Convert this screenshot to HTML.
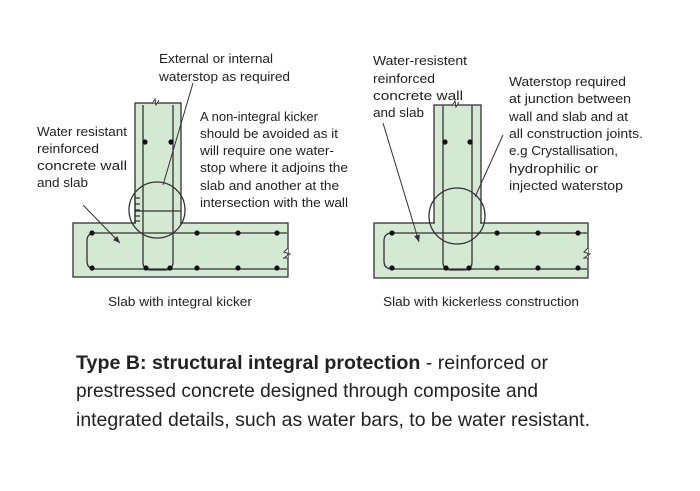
<!DOCTYPE html>
<html><head><meta charset="utf-8"><style>
html,body{margin:0;padding:0;background:#fff;}
svg{display:block;}
text{font-family:"Liberation Sans",sans-serif;fill:#222;}
</style></head><body>
<svg width="700" height="491" viewBox="0 0 700 491" xmlns="http://www.w3.org/2000/svg">
<defs><marker id="ar" markerWidth="8" markerHeight="8" refX="7" refY="4" orient="auto" markerUnits="userSpaceOnUse"><path d="M0,1 L7,4 L0,7 z" fill="#333"/></marker></defs>
<g stroke="#333" stroke-width="1.3" fill="#d4e9d2">
<!-- LEFT -->
<rect x="135" y="103" width="46" height="122"/>
<rect x="73" y="223" width="215" height="54"/>
<rect x="136" y="222" width="44" height="3" stroke="none"/>
<path d="M143,105 V262 Q143,270 151,270 H165 Q173,270 173,262 V105" fill="none"/>
<path d="M287,233 H95 Q87,233 87,241 V261 Q87,269 95,269 H287" fill="none"/>
<line x1="135" y1="211" x2="181" y2="211"/>
<path d="M135,195 V223 M135,198 h5 M135,204 h5 M135,210 h5 M135,216 h5 M135,221 h5" fill="none"/>
<circle cx="157" cy="210" r="28" fill="none"/>
<path d="M152,104 l3,-5 l1,6 l3,-5" fill="#fff" stroke-width="1"/>
<path d="M288,248 l-4,4 l6,2 l-6,4 h4" fill="#fff" stroke-width="1"/>
<!-- RIGHT -->
<rect x="434" y="105" width="47" height="120"/>
<rect x="374" y="223" width="214" height="55"/>
<rect x="435" y="222" width="45" height="3" stroke="none"/>
<path d="M443,106 V262 Q443,270 451,270 H464 Q472,270 472,262 V106" fill="none"/>
<path d="M587,233 H392 Q384,233 384,241 V261 Q384,269 392,269 H587" fill="none"/>
<circle cx="457" cy="216" r="28" fill="none"/>
<path d="M452,106 l3,-5 l1,6 l3,-5" fill="#fff" stroke-width="1"/>
<path d="M588,248 l-4,4 l6,2 l-6,4 h4" fill="#fff" stroke-width="1"/>
</g>
<g fill="#111">
<circle cx="145" cy="142" r="2.6"/><circle cx="171" cy="142" r="2.6"/>
<circle cx="92" cy="233" r="2.6"/><circle cx="197" cy="233" r="2.6"/><circle cx="238" cy="233" r="2.6"/><circle cx="277" cy="233" r="2.6"/>
<circle cx="92" cy="268" r="2.6"/><circle cx="146" cy="268" r="2.6"/><circle cx="170" cy="268" r="2.6"/><circle cx="197" cy="268" r="2.6"/><circle cx="238" cy="268" r="2.6"/><circle cx="277" cy="268" r="2.6"/>
<circle cx="445" cy="142" r="2.6"/><circle cx="470" cy="142" r="2.6"/>
<circle cx="392" cy="233" r="2.6"/><circle cx="497" cy="233" r="2.6"/><circle cx="538" cy="233" r="2.6"/><circle cx="578" cy="233" r="2.6"/>
<circle cx="392" cy="268" r="2.6"/><circle cx="446" cy="268" r="2.6"/><circle cx="469" cy="268" r="2.6"/><circle cx="497" cy="268" r="2.6"/><circle cx="538" cy="268" r="2.6"/><circle cx="578" cy="268" r="2.6"/>
</g>
<g stroke="#333" stroke-width="1" fill="none">
<line x1="163" y1="185" x2="193" y2="83"/>
<line x1="83" y1="205" x2="120" y2="243" marker-end="url(#ar)"/>
<line x1="383" y1="123" x2="419" y2="242" marker-end="url(#ar)"/>
<line x1="475" y1="197" x2="503" y2="135"/>
</g>
<g font-size="12.5">
<text x="159" y="63" textLength="114" lengthAdjust="spacingAndGlyphs">External or internal</text>
<text x="159" y="81" textLength="131" lengthAdjust="spacingAndGlyphs">waterstop as required</text>
<text x="37" y="136" textLength="90" lengthAdjust="spacingAndGlyphs">Water resistant</text>
<text x="37" y="153" textLength="62" lengthAdjust="spacingAndGlyphs">reinforced</text>
<text x="37" y="170" textLength="90" lengthAdjust="spacingAndGlyphs">concrete wall</text>
<text x="37" y="187" textLength="51" lengthAdjust="spacingAndGlyphs">and slab</text>
<text x="200" y="121" textLength="118" lengthAdjust="spacingAndGlyphs">A non-integral kicker</text>
<text x="200" y="138" textLength="138" lengthAdjust="spacingAndGlyphs">should be avoided as it</text>
<text x="200" y="155" textLength="134" lengthAdjust="spacingAndGlyphs">will require one water-</text>
<text x="200" y="172" textLength="148" lengthAdjust="spacingAndGlyphs">stop where it adjoins the</text>
<text x="200" y="190" textLength="139" lengthAdjust="spacingAndGlyphs">slab and another at the</text>
<text x="200" y="207" textLength="148" lengthAdjust="spacingAndGlyphs">intersection with the wall</text>
<text x="373" y="65" textLength="94" lengthAdjust="spacingAndGlyphs">Water-resistent</text>
<text x="373" y="83" textLength="62" lengthAdjust="spacingAndGlyphs">reinforced</text>
<text x="373" y="100" textLength="90" lengthAdjust="spacingAndGlyphs">concrete wall</text>
<text x="373" y="117" textLength="51" lengthAdjust="spacingAndGlyphs">and slab</text>
<text x="509" y="86" textLength="117" lengthAdjust="spacingAndGlyphs">Waterstop required</text>
<text x="509" y="103" textLength="122" lengthAdjust="spacingAndGlyphs">at junction between</text>
<text x="509" y="121" textLength="119" lengthAdjust="spacingAndGlyphs">wall and slab and at</text>
<text x="509" y="138" textLength="134" lengthAdjust="spacingAndGlyphs">all construction joints.</text>
<text x="509" y="155" textLength="109" lengthAdjust="spacingAndGlyphs">e.g Crystallisation,</text>
<text x="509" y="173" textLength="89" lengthAdjust="spacingAndGlyphs">hydrophilic or</text>
<text x="509" y="190" textLength="114" lengthAdjust="spacingAndGlyphs">injected waterstop</text>
<text x="108" y="306" textLength="144" lengthAdjust="spacingAndGlyphs">Slab with integral kicker</text>
<text x="383" y="306" textLength="196" lengthAdjust="spacingAndGlyphs">Slab with kickerless construction</text>
</g>
<g font-size="19.5">
<text x="76" y="369" textLength="472" lengthAdjust="spacingAndGlyphs"><tspan font-weight="bold">Type B: structural integral protection</tspan> - reinforced or</text>
<text x="76" y="397" textLength="462" lengthAdjust="spacingAndGlyphs">prestressed concrete designed through composite and</text>
<text x="76" y="426" textLength="514" lengthAdjust="spacingAndGlyphs">integrated details, such as water bars, to be water resistant.</text>
</g>
</svg>
</body></html>
